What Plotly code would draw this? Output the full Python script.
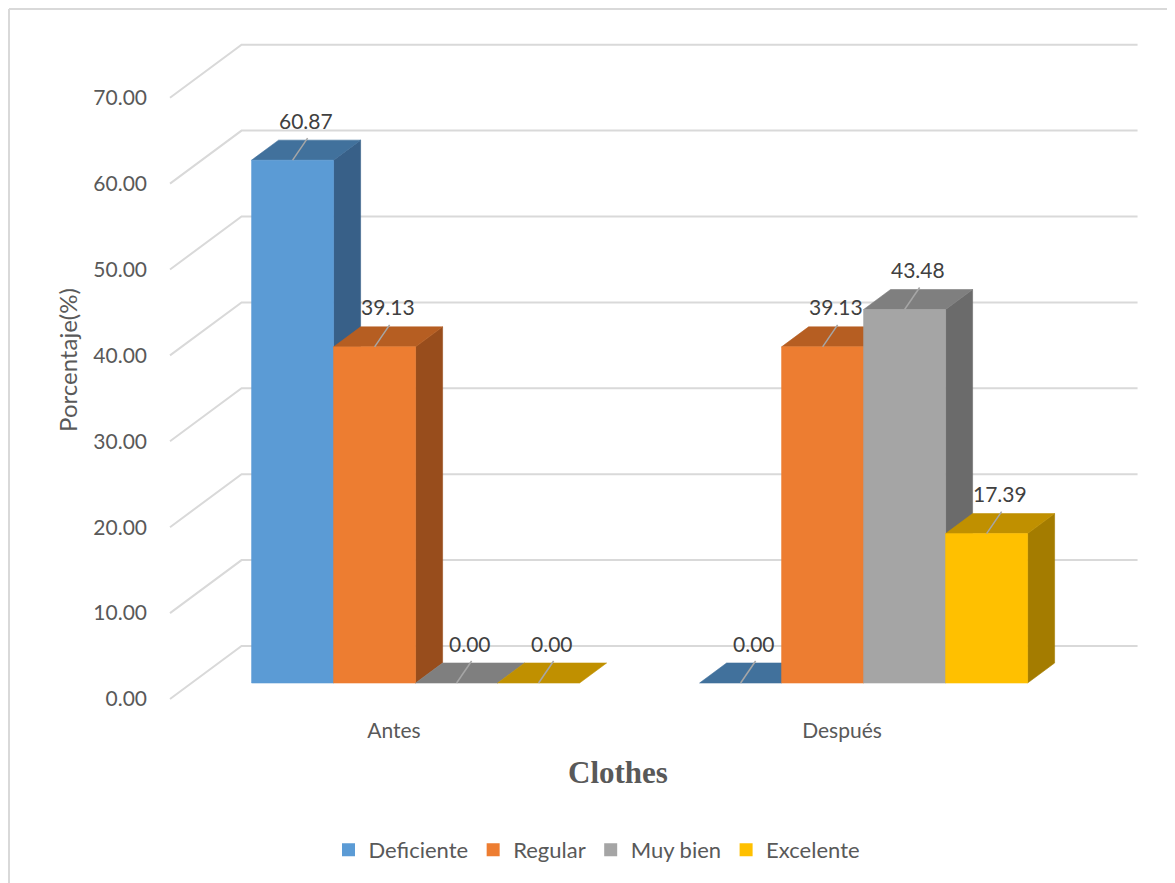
import plotly.graph_objects as go

# ---------------- data ----------------
categories = ["Antes", "Después"]
series_names = ["Deficiente", "Regular", "Muy bien", "Excelente"]
deficiente = [60.87, 0.00]
regular = [39.13, 39.13]
muy_bien = [0.00, 43.48]
excelente = [0.00, 17.39]
y_ticks = [0, 10, 20, 30, 40, 50, 60, 70]

values = [deficiente, regular, muy_bien, excelente]

# ---------------- styles ----------------
front_colors = ["#5B9BD5", "#ED7D31", "#A5A5A5", "#FFC000"]
top_colors = ["#41719C", "#B65E22", "#7F7F7F", "#C09000"]
side_colors = ["#386088", "#984D1C", "#6B6B6B", "#A47C00"]
GRID = "#D9D9D9"
TXT = "#595959"
FONT = "Lato"

# ---------------- geometry (pseudo 3D projection) ----------------
OFF = 8                 # page body margin compensation
W, H = 1175, 883
ML, MR, MT, MB = 160 - OFF, 0, 0, 171 + OFF
CAT_PX = 448.0          # px per category unit
VAL_PX = 8.59           # px per value unit
X0_PX = 394.0 - OFF     # px position of first category on the front plane
Y0_PX = 699.0 - OFF     # px position of value 0 on the front plane
KX = 27.0 / CAT_PX      # x shift per unit of depth
KY = 20.0 / VAL_PX      # y shift per unit of depth
Z_FRONT = 0.8
Z_BACK = 1.8
Z_WALL = 2.65
BAR_W = 82.0 / CAT_PX

x_range = [(ML - X0_PX) / CAT_PX, (W - MR - X0_PX) / CAT_PX]
y_range = [(Y0_PX - (H - MB)) / VAL_PX, (Y0_PX - MT) / VAL_PX]


def proj(x, v, z):
    return x + z * KX, v + z * KY


def poly_trace(polys, color):
    xs, ys = [], []
    for p in polys:
        for (x, y) in p + [p[0]]:
            xs.append(x)
            ys.append(y)
        xs.append(None)
        ys.append(None)
    return go.Scatter(x=xs, y=ys, mode="lines", fill="toself", fillcolor=color,
                      line=dict(color=color, width=0.6), hoverinfo="skip",
                      showlegend=False)


fig = go.Figure()

# gridlines: diagonal on the left, horizontal on the back wall
gx, gy = [], []
for t in y_ticks:
    for (x, z) in [(-0.5, 0.0), (-0.5, Z_WALL), (1.5, Z_WALL)]:
        px, py = proj(x, t, z)
        gx.append(px)
        gy.append(py)
    gx.append(None)
    gy.append(None)
fig.add_trace(go.Scatter(x=gx, y=gy, mode="lines", line=dict(color=GRID, width=2),
                         hoverinfo="skip", showlegend=False))

# bars
n = len(series_names)
for s in range(n):
    fronts, tops, sides = [], [], []
    for i, v in enumerate(values[s]):
        x0 = i - (n / 2) * BAR_W + s * BAR_W
        x1 = x0 + BAR_W
        tops.append([proj(x0, v, Z_FRONT), proj(x1, v, Z_FRONT),
                     proj(x1, v, Z_BACK), proj(x0, v, Z_BACK)])
        if v > 0:
            fronts.append([proj(x0, 0, Z_FRONT), proj(x1, 0, Z_FRONT),
                           proj(x1, v, Z_FRONT), proj(x0, v, Z_FRONT)])
            sides.append([proj(x1, 0, Z_FRONT), proj(x1, 0, Z_BACK),
                          proj(x1, v, Z_BACK), proj(x1, v, Z_FRONT)])
    if sides:
        fig.add_trace(poly_trace(sides, side_colors[s]))
    fig.add_trace(poly_trace(tops, top_colors[s]))
    if fronts:
        fig.add_trace(poly_trace(fronts, front_colors[s]))

# data labels with leader lines
lx, ly = [], []
annotations = []
for s in range(n):
    for i, v in enumerate(values[s]):
        xc = i - (n / 2) * BAR_W + (s + 0.5) * BAR_W
        px, py = proj(xc, v, Z_FRONT)
        lx += [px, px + 15 / CAT_PX, None]
        ly += [py, py + 22 / VAL_PX, None]
        annotations.append(dict(x=px, y=py, xref="x", yref="y", text=f"{v:.2f}",
                                showarrow=False, xshift=13, yshift=40,
                                font=dict(family=FONT, size=21, color="#404040")))
fig.add_trace(go.Scatter(x=lx, y=ly, mode="lines", line=dict(color="#A6A6A6", width=1.5),
                         hoverinfo="skip", showlegend=False))

# legend entries
for s in range(n):
    fig.add_trace(go.Scatter(x=[None], y=[None], mode="markers", name=series_names[s],
                             marker=dict(symbol="square", size=13, color=front_colors[s])))


def px_to_paper_x(p):
    return (p - OFF - ML) / (W - ML - MR)


def px_to_paper_y(p):
    return ((H - MB) - (p - OFF)) / (H - MT - MB)


# chart title (x axis title)
annotations.append(dict(x=px_to_paper_x(618), y=px_to_paper_y(772),
                        xref="paper", yref="paper", text="<b>Clothes</b>", showarrow=False,
                        font=dict(family="Liberation Serif", size=31, color=TXT),
                        xanchor="center", yanchor="middle"))

shapes = [
    dict(type="line", xref="paper", yref="paper", x0=px_to_paper_x(9), x1=px_to_paper_x(1190),
         y0=px_to_paper_y(9), y1=px_to_paper_y(9), line=dict(color=GRID, width=2)),
    dict(type="line", xref="paper", yref="paper", x0=px_to_paper_x(9), x1=px_to_paper_x(9),
         y0=px_to_paper_y(9), y1=px_to_paper_y(900), line=dict(color=GRID, width=2)),
]

fig.update_layout(
    width=W, height=H,
    margin=dict(l=ML, r=MR, t=MT, b=MB, autoexpand=False),
    paper_bgcolor="white", plot_bgcolor="white",
    font=dict(family=FONT, size=21, color=TXT),
    annotations=annotations,
    shapes=shapes,
    showlegend=True,
    legend=dict(orientation="h", x=px_to_paper_x(597), y=px_to_paper_y(850),
                xanchor="center", yanchor="middle", font=dict(family=FONT, size=22, color=TXT),
                itemwidth=30, tracegroupgap=0, bgcolor="rgba(0,0,0,0)"),
    xaxis=dict(range=x_range, showgrid=False, zeroline=False, showline=False,
               tickmode="array", tickvals=list(range(len(categories))), ticktext=categories,
               ticks="", ticklabelstandoff=4, fixedrange=True,
               tickfont=dict(family=FONT, size=21, color=TXT)),
    yaxis=dict(range=y_range, showgrid=False, zeroline=False, showline=False,
               tickmode="array", tickvals=y_ticks, ticktext=[f"{t:.2f}" for t in y_ticks],
               ticks="", ticklabelstandoff=12, fixedrange=True,
               tickfont=dict(family=FONT, size=21, color=TXT),
               title=dict(text="Porcentaje(%)", standoff=8,
                          font=dict(family=FONT, size=24, color=TXT))),
)

fig.write_html("out.html")
